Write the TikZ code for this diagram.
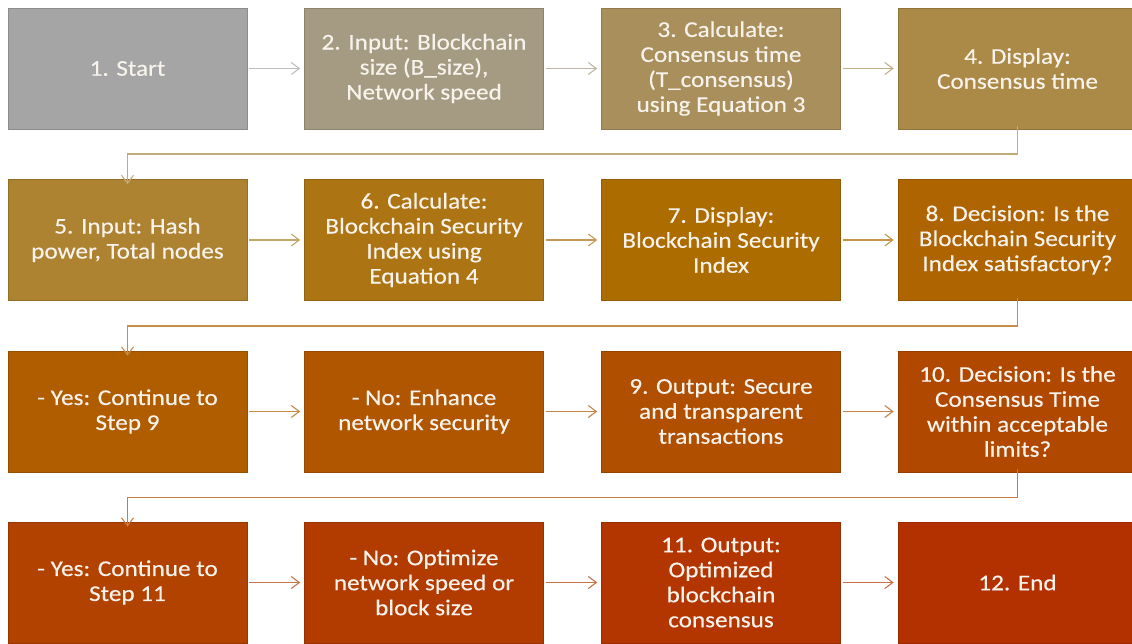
\documentclass[tikz,border=0pt]{standalone}
\usepackage{fontspec}
\setmainfont{Carlito}
\newfontfamily\boxfont[FakeStretch=1.12,FakeBold=0.35]{Carlito}
\usetikzlibrary{arrows.meta}

% step colours: grey through tan to deep orange-red
\definecolor{c1}{HTML}{A5A5A5}
\definecolor{c2}{HTML}{A59B82}
\definecolor{c3}{HTML}{A98F5C}
\definecolor{c4}{HTML}{AB8946}
\definecolor{c5}{HTML}{AD8230}
\definecolor{c6}{HTML}{AC7412}
\definecolor{c7}{HTML}{AD6C00}
\definecolor{c8}{HTML}{AE6400}
\definecolor{c9}{HTML}{B05D00}
\definecolor{c10}{HTML}{B05600}
\definecolor{c11}{HTML}{B04F00}
\definecolor{c12}{HTML}{B14800}
\definecolor{c13}{HTML}{B24200}
\definecolor{c14}{HTML}{B23C00}
\definecolor{c15}{HTML}{B33600}
\definecolor{c16}{HTML}{B33000}
\definecolor{txt}{HTML}{F7F3EC}

\tikzset{
  stepbox/.style={rectangle, fill=#1, draw=#1!85!black, line width=0.6pt,
    minimum width=239pt, minimum height=121pt, inner sep=0pt,
    align=center, text=txt, font=\boxfont\fontsize{22.5}{25}\selectfont},
  flow/.style={draw=#1!72!white, line width=1.3pt,
    -{Straight Barb[length=8pt,width=12pt,line width=1.1pt]}},
}

\begin{document}
\begin{tikzpicture}[x=1pt,y=-1pt]
  \useasboundingbox (0,0) rectangle (1132,643);
  \clip (0,0) rectangle (1132,643);

  % row 1
  \node[stepbox=c1] (s1) at (127.5,68.5) {1. Start};
  \node[stepbox=c2] (s2) at (424,68.5) {2. Input: Blockchain\\size (B\_size),\\Network speed};
  \node[stepbox=c3] (s3) at (721,68.5) {3. Calculate:\\Consensus time\\(T\_consensus)\\using Equation 3};
  \node[stepbox=c4] (s4) at (1017.5,68.5) {4. Display:\\Consensus time};

  % row 2
  \node[stepbox=c5] (s5) at (127.5,240) {5. Input: Hash\\power, Total nodes};
  \node[stepbox=c6] (s6) at (424,240) {6. Calculate:\\Blockchain Security\\Index using\\Equation 4};
  \node[stepbox=c7] (s7) at (721,240) {7. Display:\\Blockchain Security\\Index};
  \node[stepbox=c8] (s8) at (1017.5,240) {8. Decision: Is the\\Blockchain Security\\Index satisfactory?};

  % row 3
  \node[stepbox=c9] (s9) at (127.5,411.5) {- Yes: Continue to\\Step 9};
  \node[stepbox=c10] (s10) at (424,411.5) {- No: Enhance\\network security};
  \node[stepbox=c11] (s11) at (721,411.5) {9. Output: Secure\\and transparent\\transactions};
  \node[stepbox=c12] (s12) at (1017.5,411.5) {10. Decision: Is the\\Consensus Time\\within acceptable\\limits?};

  % row 4
  \node[stepbox=c13] (s13) at (127.5,582.5) {- Yes: Continue to\\Step 11};
  \node[stepbox=c14] (s14) at (424,582.5) {- No: Optimize\\network speed or\\block size};
  \node[stepbox=c15] (s15) at (721,582.5) {11. Output:\\Optimized\\blockchain\\consensus};
  \node[stepbox=c16] (s16) at (1017.5,582.5) {12. End};

  % connectors within rows
  \draw[flow=c1]  ([xshift=2pt]s1.east)  -- ([xshift=-4pt]s2.west);
  \draw[flow=c2]  ([xshift=2pt]s2.east)  -- ([xshift=-4pt]s3.west);
  \draw[flow=c3]  ([xshift=2pt]s3.east)  -- ([xshift=-4pt]s4.west);
  \draw[flow=c5]  ([xshift=2pt]s5.east)  -- ([xshift=-4pt]s6.west);
  \draw[flow=c6]  ([xshift=2pt]s6.east)  -- ([xshift=-4pt]s7.west);
  \draw[flow=c7]  ([xshift=2pt]s7.east)  -- ([xshift=-4pt]s8.west);
  \draw[flow=c9]  ([xshift=2pt]s9.east)  -- ([xshift=-4pt]s10.west);
  \draw[flow=c10] ([xshift=2pt]s10.east) -- ([xshift=-4pt]s11.west);
  \draw[flow=c11] ([xshift=2pt]s11.east) -- ([xshift=-4pt]s12.west);
  \draw[flow=c13] ([xshift=2pt]s13.east) -- ([xshift=-4pt]s14.west);
  \draw[flow=c14] ([xshift=2pt]s14.east) -- ([xshift=-4pt]s15.west);
  \draw[flow=c15] ([xshift=2pt]s15.east) -- ([xshift=-4pt]s16.west);

  % connectors wrapping to the next row
  \draw[flow=c4]  ([yshift=3pt]s4.south)  |- (127.5,154) -- ([yshift=-5pt]s5.north);
  \draw[flow=c8]  ([yshift=3pt]s8.south)  |- (127.5,326) -- ([yshift=-5pt]s9.north);
  \draw[flow=c12] ([yshift=3pt]s12.south) |- (127.5,497.5) -- ([yshift=-5pt]s13.north);
\end{tikzpicture}
\end{document}
